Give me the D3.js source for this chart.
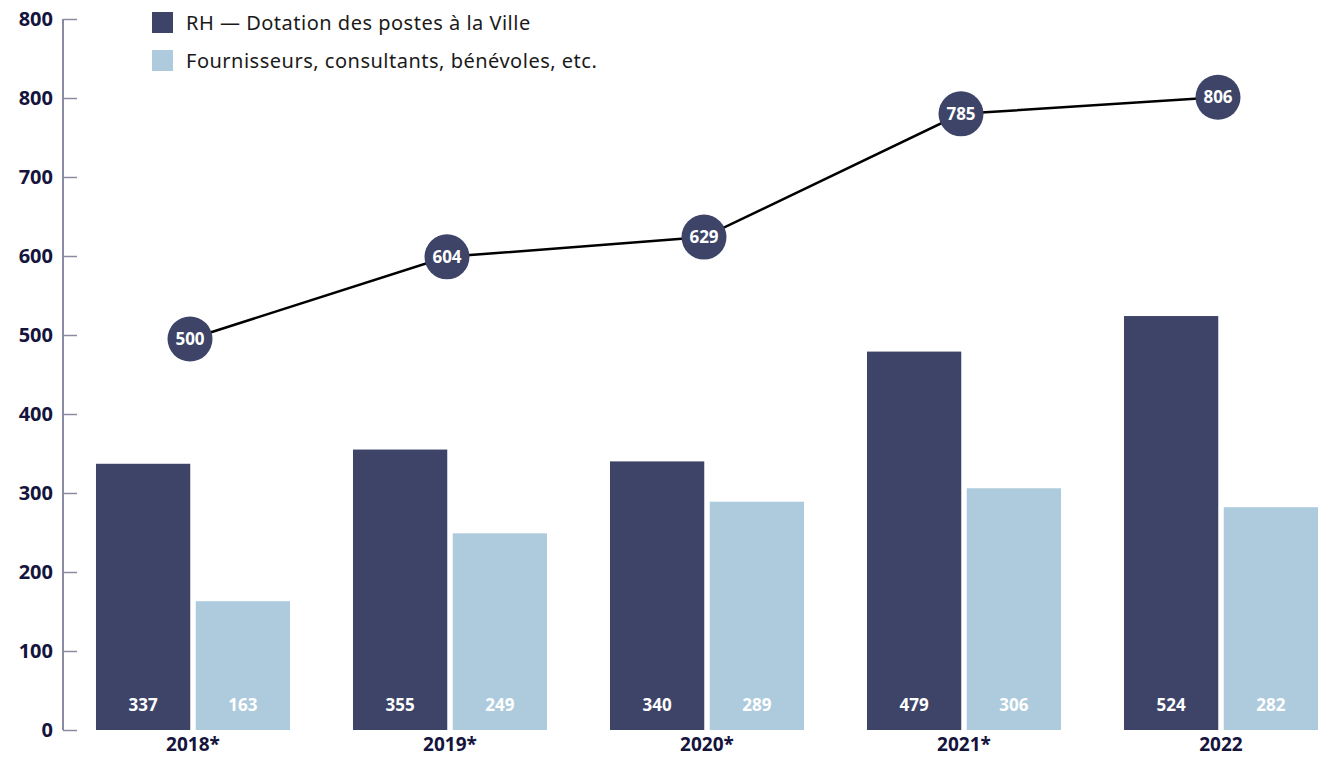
<!DOCTYPE html>
<html>
<head>
<meta charset="utf-8">
<script src="https://cdn.jsdelivr.net/npm/d3@7"></script>
<style>
  body { margin: 0; background: #fff; }
  text { font-family: "Noto Sans", Lato, sans-serif; }
</style>
</head>
<body>
<svg id="chart"></svg>
<script>
const WidthTotal = 1325;
const HeightTotal = 758;

// data
const years = ["2018*", "2019*", "2020*", "2021*", "2022"];
const rh = [337, 355, 340, 479, 524];
const fournisseurs = [163, 249, 289, 306, 282];
const totals = [500, 604, 629, 785, 806];
const tickValues = [0, 100, 200, 300, 400, 500, 600, 700, 800, 900];
const tickLabels = ["0", "100", "200", "300", "400", "500", "600", "700", "800", "800"];
const legendLabels = ["RH \u2014 Dotation des postes \u00e0 la Ville", "Fournisseurs, consultants, b\u00e9n\u00e9voles, etc."];
const colors = ["#3d4468", "#adcbdc"];

const svg = d3.select("#chart")
  .attr("width", WidthTotal)
  .attr("height", HeightTotal);

const y = d3.scaleLinear()
  .domain([0, 900])
  .range([730, 19]);

const x = d3.scaleBand()
  .domain(years)
  .range([64.5, 1349.5])
  .paddingInner(0.245)
  .paddingOuter(0.1225);

const x1 = d3.scaleBand()
  .domain([0, 1])
  .range([0, x.bandwidth()])
  .paddingInner(0.055);

// bars
const groups = svg.selectAll(".grp")
  .data(years)
  .enter()
  .append("g")
    .attr("class", "grp")
    .attr("transform", d => `translate(${x(d)},0)`);

groups.each(function(d, i) {
  const vals = [rh[i], fournisseurs[i]];
  const g = d3.select(this);
  g.selectAll("rect")
    .data(vals)
    .enter()
    .append("rect")
      .attr("x", (v, k) => x1(k))
      .attr("y", v => y(v))
      .attr("width", x1.bandwidth())
      .attr("height", v => y(0) - y(v))
      .attr("fill", (v, k) => colors[k]);
  g.selectAll(".val")
    .data(vals)
    .enter()
    .append("text")
      .attr("x", (v, k) => x1(k) + x1.bandwidth() / 2)
      .attr("y", 711)
      .attr("text-anchor", "middle")
      .attr("fill", "#fff")
      .attr("font-weight", 700)
      .attr("font-size", 17)
      .text(v => v);
});

// axis
const axis = svg.append("g")
  .attr("transform", "translate(63,0)")
  .call(d3.axisRight(y)
    .tickValues(tickValues)
    .tickSize(14)
    .tickFormat((d, i) => ""));
axis.select(".domain").attr("stroke", "#8a8aa3").attr("stroke-width", 2)
  .attr("d", `M0,${y(900)}V${y(0)}`);
axis.selectAll(".tick line").attr("stroke", "#8a8aa3").attr("stroke-width", 1.5);

svg.selectAll(".ylab")
  .data(tickValues)
  .enter()
  .append("text")
    .attr("class", "ylab")
    .attr("x", 53)
    .attr("y", d => y(d))
    .attr("dy", "0.35em")
    .attr("text-anchor", "end")
    .attr("fill", "#14143c")
    .attr("font-weight", 700)
    .attr("font-size", 20)
    .text((d, i) => tickLabels[i]);

// year labels
svg.selectAll(".xlab")
  .data(years)
  .enter()
  .append("text")
    .attr("x", d => x(d) + x.bandwidth() / 2)
    .attr("y", 751)
    .attr("text-anchor", "middle")
    .attr("fill", "#14143c")
    .attr("font-weight", 700)
    .attr("font-size", 19)
    .text(d => d);

// total line
const cx = d => x(d) + x.bandwidth() / 2 - 3;
const line = d3.line()
  .x((d, i) => cx(years[i]))
  .y(d => y(d) + 4);

svg.append("path")
  .datum(totals)
  .attr("d", line)
  .attr("fill", "none")
  .attr("stroke", "#000")
  .attr("stroke-width", 2.5);

svg.selectAll(".dot")
  .data(totals)
  .enter()
  .append("circle")
    .attr("cx", (d, i) => cx(years[i]))
    .attr("cy", d => y(d) + 4)
    .attr("r", 22.5)
    .attr("fill", colors[0]);

svg.selectAll(".dotlab")
  .data(totals)
  .enter()
  .append("text")
    .attr("x", (d, i) => cx(years[i]))
    .attr("y", d => y(d) + 4)
    .attr("dy", "0.35em")
    .attr("text-anchor", "middle")
    .attr("fill", "#fff")
    .attr("font-weight", 700)
    .attr("font-size", 17)
    .text(d => d);

// legend
const legend = svg.selectAll(".leg")
  .data(legendLabels)
  .enter()
  .append("g")
    .attr("transform", (d, i) => `translate(152,${12 + i * 38})`);
legend.append("rect")
  .attr("width", 21)
  .attr("height", 21)
  .attr("fill", (d, i) => colors[i]);
legend.append("text")
  .attr("x", 34)
  .attr("y", 11)
  .attr("dy", "0.35em")
  .attr("fill", "#1a1a1a")
  .attr("font-size", 20)
  .attr("letter-spacing", 0.5)
  .text(d => d);
</script>
</body>
</html>
